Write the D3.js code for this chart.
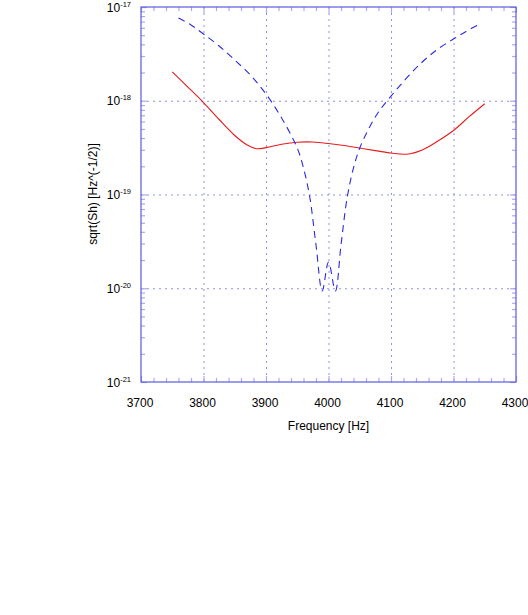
<!DOCTYPE html>
<html>
<head>
<meta charset="utf-8">
<script src="https://cdn.jsdelivr.net/npm/d3@7"></script>
<style>
  body { margin: 0; background: #fff; }
  text { font-family: "Liberation Sans", Arial, sans-serif; fill: #000; }
</style>
</head>
<body>
<div id="chart"></div>
<script>
// Data
var redFreq = [3750, 3775, 3800, 3825, 3850, 3870, 3885, 3900, 3925, 3950, 3975, 4000,
               4025, 4050, 4075, 4100, 4125, 4150, 4175, 4200, 4225, 4250];
var redVals = [2.03e-18, 1.40e-18, 9.57e-19, 6.31e-19, 4.26e-19, 3.37e-19, 3.08e-19, 3.16e-19,
               3.43e-19, 3.61e-19, 3.63e-19, 3.5e-19, 3.33e-19, 3.13e-19, 2.94e-19, 2.77e-19,
               2.69e-19, 2.99e-19, 3.72e-19, 4.82e-19, 6.76e-19, 9.3e-19];

var blueFreq = [3760, 3780, 3800, 3825, 3850, 3875, 3900, 3925, 3950, 3960, 3970, 3980, 3990,
                4000, 4011, 4020, 4030, 4040, 4050, 4065, 4080, 4100, 4125, 4150, 4175,
                4200, 4220, 4242];
var blueVals = [7.63e-18, 6.43e-18, 5.15e-18, 3.84e-18, 2.72e-18, 1.88e-18, 1.18e-18, 6.55e-19,
                3.13e-19, 1.92e-19, 9.4e-20, 2.89e-20, 9.35e-21,
                1.9e-20, 9.35e-21, 2.89e-20, 9.4e-20, 1.92e-19, 3.13e-19, 5.12e-19, 7.59e-19,
                1.12e-18, 1.75e-18, 2.59e-18, 3.56e-18, 4.56e-18, 5.48e-18, 6.59e-18];

var xTicks = [3700, 3800, 3900, 4000, 4100, 4200, 4300];
var xTickLabels = ["3700", "3800", "3900", "4000", "4100", "4200", "4300"];
var yTickExps = [-21, -20, -19, -18, -17];
var yTickLabels = ["-21", "-20", "-19", "-18", "-17"];

var xTitle = "Frequency [Hz]";
var yTitle = "sqrt(Sh) [Hz^(-1/2)]";

// Layout (plot box edges)
var W = 528, H = 615;
var pLeft = 141, pRight = 516, pTop = 7, pBottom = 382;
var frameColor = "#5a5ae0", tickColor = "#aaaaf2", gridColor = "#9090f0";

var svg = d3.select("#chart").append("svg")
    .attr("width", W)
    .attr("height", H);

var x = d3.scaleLinear().domain([3700, 4300]).range([pLeft, pRight]);
var y = d3.scaleLog().domain([1e-21, 1e-17]).range([pBottom, pTop]);

var yMajor = yTickExps.map(function (e) { return Math.pow(10, e); });
var yMinor = [];
yTickExps.slice(0, -1).forEach(function (e) {
    for (var k = 2; k <= 9; k++) yMinor.push(k * Math.pow(10, e));
});
var xMinor = d3.range(3700, 4300, 20).filter(function (v) { return v % 100 !== 0; });

// Grid (dotted)
var grid = svg.append("g")
    .attr("stroke", gridColor)
    .attr("stroke-width", 1)
    .attr("stroke-dasharray", "2,4");

grid.selectAll(".gx").data(xTicks.slice(1, -1)).enter().append("line")
    .attr("x1", function (d) { return x(d) + 0.5; })
    .attr("x2", function (d) { return x(d) + 0.5; })
    .attr("y1", pTop).attr("y2", pBottom);

grid.selectAll(".gy").data(yMajor.slice(1, -1)).enter().append("line")
    .attr("y1", function (d) { return y(d) + 0.5; })
    .attr("y2", function (d) { return y(d) + 0.5; })
    .attr("x1", pLeft).attr("x2", pRight);

// Inward ticks on all four sides
function tickAxis(axis, tr) {
    var g = svg.append("g").attr("transform", tr).call(axis);
    g.select(".domain").remove();
    g.selectAll(".tick line").attr("stroke", tickColor).attr("stroke-width", 1.2);
    g.selectAll(".tick text").remove();
}
tickAxis(d3.axisBottom(x).tickValues(xMinor).tickSize(-4), "translate(0," + pBottom + ")");
tickAxis(d3.axisTop(x).tickValues(xMinor).tickSize(-4), "translate(0," + pTop + ")");
tickAxis(d3.axisBottom(x).tickValues(xTicks).tickSize(-6), "translate(0," + pBottom + ")");
tickAxis(d3.axisTop(x).tickValues(xTicks).tickSize(-6), "translate(0," + pTop + ")");
tickAxis(d3.axisLeft(y).tickValues(yMinor).tickSize(-4), "translate(" + pLeft + ",0)");
tickAxis(d3.axisRight(y).tickValues(yMinor).tickSize(-4), "translate(" + pRight + ",0)");
tickAxis(d3.axisLeft(y).tickValues(yMajor).tickSize(-6), "translate(" + pLeft + ",0)");
tickAxis(d3.axisRight(y).tickValues(yMajor).tickSize(-6), "translate(" + pRight + ",0)");

// Frame
svg.append("rect")
    .attr("x", pLeft).attr("y", pTop)
    .attr("width", pRight - pLeft).attr("height", pBottom - pTop)
    .attr("fill", "none")
    .attr("stroke", frameColor)
    .attr("stroke-width", 1.2);

// Tick labels
svg.selectAll(".xl").data(xTicks).enter().append("text")
    .attr("x", function (d) { return x(d) - 1; })
    .attr("y", pBottom + 24.5)
    .attr("text-anchor", "middle")
    .attr("font-size", 12)
    .text(function (d, i) { return xTickLabels[i]; });

var yl = svg.selectAll(".yl").data(yMajor).enter().append("text")
    .attr("x", pLeft - 10)
    .attr("y", function (d) { return y(d) + 4.5; })
    .attr("text-anchor", "end")
    .attr("font-size", 12);
yl.append("tspan").text("10");
yl.append("tspan")
    .attr("dy", -5)
    .attr("font-size", 7.5)
    .text(function (d, i) { return yTickLabels[i]; });

// Axis titles
svg.append("text")
    .attr("x", x(4000))
    .attr("y", 430)
    .attr("text-anchor", "middle")
    .attr("font-size", 12)
    .text(xTitle);

svg.append("text")
    .attr("transform", "translate(97,194) rotate(-90)")
    .attr("text-anchor", "middle")
    .attr("font-size", 12)
    .text(yTitle);

// Curves
var redData = redFreq.map(function (f, i) { return { f: f, v: redVals[i] }; });
var blueData = blueFreq.map(function (f, i) { return { f: f, v: blueVals[i] }; });

var line = d3.line()
    .x(function (d) { return x(d.f); })
    .y(function (d) { return y(d.v); })
    .curve(d3.curveCatmullRom.alpha(0.5));

svg.append("path")
    .datum(redData)
    .attr("fill", "none")
    .attr("stroke", "#e81c1c")
    .attr("stroke-width", 1.1)
    .attr("d", line);

svg.append("path")
    .datum(blueData)
    .attr("fill", "none")
    .attr("stroke", "#2a2ae6")
    .attr("stroke-width", 1.1)
    .attr("stroke-dasharray", "7,5")
    .attr("d", line);
</script>
</body>
</html>
